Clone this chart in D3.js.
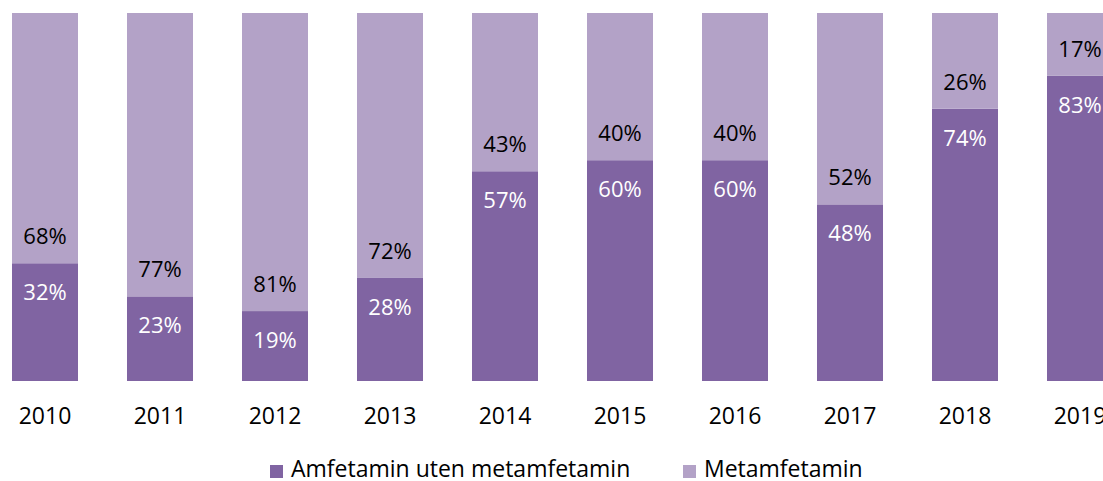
<!DOCTYPE html>
<html>
<head>
<meta charset="utf-8">
<script src="https://cdn.jsdelivr.net/npm/d3@7"></script>
<style>
  body { margin: 0; background: #fff; }
  svg { display: block; font-family: "Open Sans", sans-serif; }
</style>
</head>
<body>
<svg id="chart"></svg>
<script>
const years = ["2010","2011","2012","2013","2014","2015","2016","2017","2018","2019"];
const amfetamin = [32, 23, 19, 28, 57, 60, 60, 48, 74, 83];
const metamfetamin = [68, 77, 81, 72, 43, 40, 40, 52, 26, 17];
const seriesNames = ["Amfetamin uten metamfetamin", "Metamfetamin"];
const seriesColors = ["#8064a2", "#b3a2c7"];

const width = 1103, height = 481;
const svg = d3.select("#chart").attr("width", width).attr("height", height);

// x: 115px per category, 66px bars
const x = d3.scaleBand().domain(years).range([-12.5, 1137.5])
  .paddingInner(0.426).paddingOuter(0.213);
const y = d3.scaleLinear().domain([0, 100]).range([381, 13]);

const rows = years.map((yr, i) => ({ year: yr, a: amfetamin[i], m: metamfetamin[i] }));
const stack = d3.stack().keys(["a", "m"])(rows);

const g = svg.append("g");
g.selectAll("g.series")
  .data(stack)
  .enter().append("g")
  .attr("fill", (d, i) => seriesColors[i])
  .selectAll("rect")
  .data(d => d)
  .enter().append("rect")
  .attr("x", d => x(d.data.year))
  .attr("width", x.bandwidth())
  .attr("y", d => y(d[1]))
  .attr("height", d => y(d[0]) - y(d[1]));

// labels: dark ones just under the boundary, light ones just above it
g.selectAll("text.lab-a")
  .data(rows)
  .enter().append("text")
  .attr("x", d => x(d.year) + x.bandwidth() / 2)
  .attr("y", d => y(d.a) + 37)
  .attr("text-anchor", "middle")
  .attr("fill", "#fff")
  .style("font-size", "22px")
  .text(d => d.a + "%");

g.selectAll("text.lab-m")
  .data(rows)
  .enter().append("text")
  .attr("x", d => x(d.year) + x.bandwidth() / 2)
  .attr("y", d => y(d.a) - 19)
  .attr("text-anchor", "middle")
  .attr("fill", "#000")
  .style("font-size", "22px")
  .text(d => d.m + "%");

// year axis
const axis = svg.append("g")
  .attr("transform", "translate(0,381)")
  .call(d3.axisBottom(x).tickSize(0).tickPadding(27));
axis.select(".domain").remove();
axis.selectAll("text")
  .attr("fill", "#000")
  .style("font-size", "23px")
  .style("font-family", "\"Open Sans\", sans-serif");

// legend
const legendX = [270, 683];
const legend = svg.append("g");
seriesNames.forEach((name, i) => {
  legend.append("rect")
    .attr("x", legendX[i]).attr("y", 465)
    .attr("width", 13).attr("height", 13)
    .attr("fill", seriesColors[i]);
  legend.append("text")
    .attr("x", legendX[i] + 21).attr("y", 477)
    .attr("fill", "#000")
    .style("font-size", "23px")
    .text(name);
});
</script>
</body>
</html>
